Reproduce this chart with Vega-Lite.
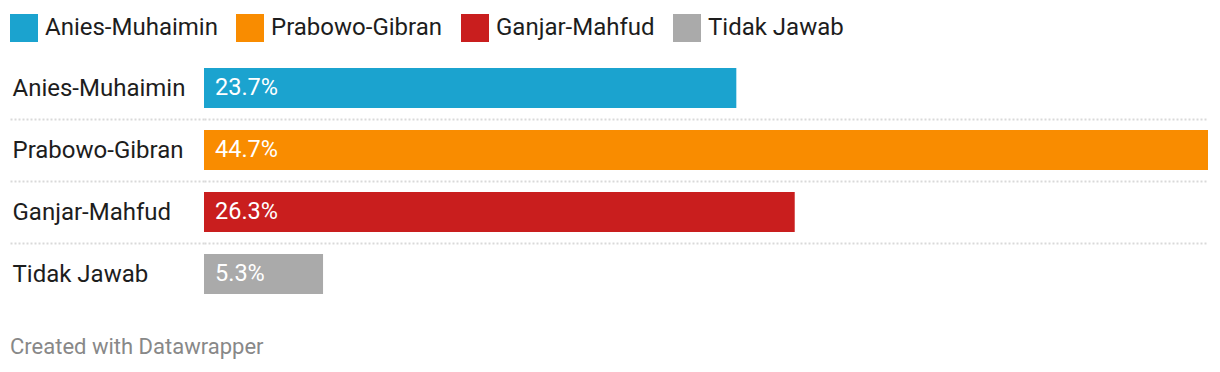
{
  "$schema": "https://vega.github.io/schema/vega-lite/v6.json",
  "width": 1004,
  "height": 248,
  "autosize": {"type": "none"},
  "padding": {"left": 204, "top": 57, "right": 12, "bottom": 67},
  "background": "white",
  "config": {
    "view": {"stroke": null},
    "font": "Roboto"
  },
  "data": {
    "values": [
      {"cat": "Anies-Muhaimin", "value": 0.237},
      {"cat": "Prabowo-Gibran", "value": 0.447},
      {"cat": "Ganjar-Mahfud", "value": 0.263},
      {"cat": "Tidak Jawab", "value": 0.053}
    ]
  },
  "title": {
    "text": "Created with Datawrapper",
    "orient": "bottom",
    "anchor": "start",
    "frame": "group",
    "dx": -194,
    "offset": 32,
    "fontSize": 22,
    "fontWeight": "normal",
    "color": "#888888",
    "font": "Roboto"
  },
  "layer": [
    {
      "mark": {"type": "bar", "height": 40},
      "encoding": {
        "y": {
          "field": "cat",
          "type": "nominal",
          "sort": null,
          "scale": {"paddingInner": 0, "paddingOuter": 0},
          "axis": {
            "title": null,
            "domain": false,
            "ticks": true,
            "tickSize": 194,
            "tickDash": [2, 2],
            "tickWidth": 2,
            "tickColor": "#d9d9d9",
            "tickOpacity": {"condition": {"test": "datum.value == 'Tidak Jawab' || !datum.value", "value": 0}, "value": 1},
            "labelAlign": "left",
            "labelPadding": -2,
            "labelFontSize": 24,
            "labelColor": "#1d1d1d",
            "labelFont": "Roboto",
            "labelLimit": 0,
            "grid": true,
            "gridDash": [2, 2],
            "gridWidth": 2,
            "gridColor": "#d9d9d9",
            "gridOpacity": {"condition": {"test": "datum.value == 'Tidak Jawab' || !datum.value", "value": 0}, "value": 1},
            "tickBand": "extent"
          }
        },
        "x": {
          "field": "value",
          "type": "quantitative",
          "scale": {"domain": [0, 0.447], "nice": false, "zero": true},
          "axis": null
        },
        "color": {
          "field": "cat",
          "type": "nominal",
          "sort": null,
          "scale": {
            "domain": ["Anies-Muhaimin", "Prabowo-Gibran", "Ganjar-Mahfud", "Tidak Jawab"],
            "range": ["#1ba3cf", "#f98c00", "#c91e1e", "#aaaaaa"]
          },
          "legend": {
            "title": null,
            "orient": "none",
            "legendX": -194,
            "legendY": -43,
            "direction": "horizontal",
            "symbolType": "square",
            "symbolSize": 784,
            "symbolStrokeWidth": 0,
            "symbolOpacity": 1,
            "labelFontSize": 24,
            "labelColor": "#1d1d1d",
            "labelFont": "Roboto",
            "labelLimit": 0,
            "labelOffset": 7,
            "columnPadding": 18,
            "padding": 0
          }
        }
      }
    },
    {
      "mark": {"type": "text", "align": "left", "baseline": "middle", "dx": 11, "fontSize": 23.5, "color": "white", "font": "Roboto"},
      "encoding": {
        "y": {"field": "cat", "type": "nominal", "sort": null},
        "x": {"datum": 0},
        "text": {"field": "value", "type": "quantitative", "format": ".1%"}
      }
    }
  ]
}
